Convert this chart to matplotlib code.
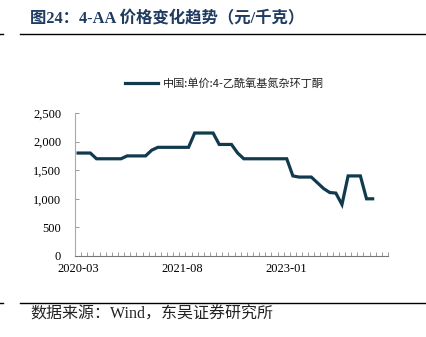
import numpy as np
import matplotlib
matplotlib.use('Agg')
import matplotlib.pyplot as plt
import matplotlib.ticker as tck
from matplotlib.lines import Line2D

## ---------------------------------DATOS--------------------------------- ##

meses = ['2020-03', '2020-04', '2020-05', '2020-06', '2020-07', '2020-08', '2020-09',
         '2020-10', '2020-11', '2020-12', '2021-01', '2021-02', '2021-03', '2021-04',
         '2021-05', '2021-06', '2021-07', '2021-08', '2021-09', '2021-10', '2021-11',
         '2021-12', '2022-01', '2022-02', '2022-03', '2022-04', '2022-05', '2022-06',
         '2022-07', '2022-08', '2022-09', '2022-10', '2022-11', '2022-12', '2023-01',
         '2023-02', '2023-03', '2023-04', '2023-05', '2023-06', '2023-07', '2023-08',
         '2023-09', '2023-10', '2023-11', '2023-12', '2024-01', '2024-02', '2024-03',
         '2024-04', '2024-05']

precio = [1800, 1800, 1800, 1700, 1700, 1700, 1700, 1700, 1750, 1750, 1750, 1750,
          1850, 1900, 1900, 1900, 1900, 1900, 1900, 2150, 2150, 2150, 2150, 1950,
          1950, 1950, 1800, 1700, 1700, 1700, 1700, 1700, 1700, 1700, 1700, 1400,
          1380, 1380, 1380, 1280, 1180, 1110, 1100, 900, 1400, 1400, 1400, 1000,
          1000, np.nan, np.nan]

etiquetas_x = ['2020-03', '2021-08', '2023-01']
ticks_y = [0, 500, 1000, 1500, 2000, 2500]

titulo = u'图24：4-AA 价格变化趋势（元/千克）'
leyenda = u'中国:单价:4-乙酰氧基氮杂环丁酮'
fuente = u'数据来源：Wind，东吴证券研究所'

## ---------------------------------FIGURA-------------------------------- ##

W, H = 427, 337
fig = plt.figure(figsize=[W / 100, H / 100], dpi=100)

color_linea = '#123a4f'
fam_serif = ['Liberation Serif', 'Noto Sans CJK SC']

ax = fig.add_axes([75 / W, 1 - 256 / H, (388 - 75) / W, (256 - 113) / H])
x = np.arange(len(meses))
ax.plot(x, precio, color=color_linea, lw=2.3, solid_joinstyle='miter',
        label=leyenda)

ax.set_xlim(-0.5, len(meses) - 0.5)
ax.set_ylim(0, 2500)
ax.set_yticks(ticks_y)
ax.yaxis.set_major_formatter(tck.FuncFormatter(lambda v, p: '{:,.0f}'.format(v)))
ax.set_xticks([meses.index(e) for e in etiquetas_x])
ax.set_xticklabels(etiquetas_x)
ax.set_xticks(np.arange(-0.5, len(meses), 1.0), minor=True)

ax.tick_params(axis='x', which='major', length=0, pad=5)
ax.tick_params(axis='x', which='minor', direction='in', length=3, width=0.6,
               color='#888888')
ax.tick_params(axis='y', direction='in', length=3, width=0.6, color='#888888',
               pad=10)
for lab in ax.get_xticklabels() + ax.get_yticklabels():
    lab.set_fontfamily('Liberation Serif')
    lab.set_fontsize(9)

ax.spines['top'].set_visible(False)
ax.spines['right'].set_visible(False)
ax.spines['left'].set_color('#aaaaaa')
ax.spines['left'].set_linewidth(0.8)
ax.spines['bottom'].set_color('#777777')
ax.spines['bottom'].set_linewidth(0.8)

leg = ax.legend(loc='center left', bbox_to_anchor=(125 / W, 1 - 83 / H),
                bbox_transform=fig.transFigure, frameon=False, handlelength=3.0,
                handletextpad=0.4, borderpad=0, borderaxespad=0,
                prop={'family': 'Noto Sans CJK SC', 'size': 8})
for t in leg.get_texts():
    t.set_color('#222222')

## -------------------------TITULO, LINEAS Y FUENTE----------------------- ##

fig.text(30 / W, 1 - 19 / H, titulo, fontsize=11.8, fontweight='bold',
         family=fam_serif, color='#1f3b60', va='center', ha='left')

for yy in (34, 303):
    fig.add_artist(Line2D([20 / W, 1.0], [1 - yy / H, 1 - yy / H],
                          color='black', lw=1.0, transform=fig.transFigure))
    fig.add_artist(Line2D([0, 3 / W], [1 - yy / H, 1 - yy / H],
                          color='black', lw=1.0, transform=fig.transFigure))

fig.text(30 / W, 1 - 315 / H, fuente, fontsize=11.5, family=fam_serif,
         color='#222222', va='center', ha='left')

plt.savefig('out.png', dpi=100)
